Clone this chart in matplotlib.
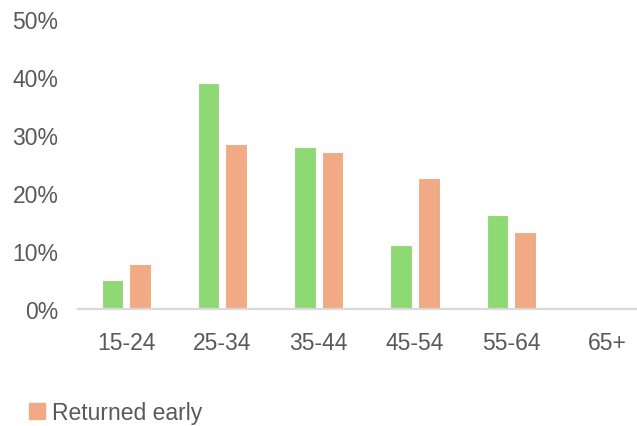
import numpy as np
import matplotlib.pyplot as plt
from matplotlib.patches import Patch
from matplotlib.ticker import PercentFormatter

grupos = ['15-24', '25-34', '35-44', '45-54', '55-64', '65+']
no_volvio = [5.0, 39.0, 27.9, 11.0, 16.2, 0.1]
volvio_antes = [7.8, 28.4, 27.1, 22.6, 13.2, 0.0]

verde = '#8FD974'
naranja = '#F2AA84'
gris = '#595959'

plt.rcParams['font.family'] = ['Liberation Sans', 'DejaVu Sans']

fig = plt.figure(figsize=(6.37, 4.27), dpi=100)
ax = fig.add_axes([0.1224, 0.274, 0.907, 0.679])

x = np.arange(len(grupos))
ancho = 0.224
sep = 0.143
ax.bar(x - sep, no_volvio, ancho, color=verde, edgecolor='white', linewidth=0.8)
ax.bar(x + sep, volvio_antes, ancho, color=naranja, edgecolor='white', linewidth=0.8)

ax.set_xlim(-0.5, len(grupos) - 0.5)
ax.set_ylim(0, 50)
ax.set_yticks([0, 10, 20, 30, 40, 50])
ax.yaxis.set_major_formatter(PercentFormatter(decimals=0))
ax.set_xticks(x)
ax.set_xticklabels(grupos)

for s in ['top', 'right', 'left']:
    ax.spines[s].set_visible(False)
ax.spines['bottom'].set_color('#d9d9d9')
ax.spines['bottom'].set_linewidth(1.6)

ax.tick_params(axis='both', length=0, labelsize=16.5, colors=gris)
ax.tick_params(axis='y', pad=14)
ax.tick_params(axis='x', pad=16)

fig.legend(handles=[Patch(color=naranja, label='Returned early')],
           loc='upper left', bbox_to_anchor=(0.045, 0.058), frameon=False,
           fontsize=16.5, labelcolor=gris, handlelength=0.7, handleheight=0.7,
           handletextpad=0.3, borderpad=0, borderaxespad=0)

fig.savefig('out.png', dpi=100)
